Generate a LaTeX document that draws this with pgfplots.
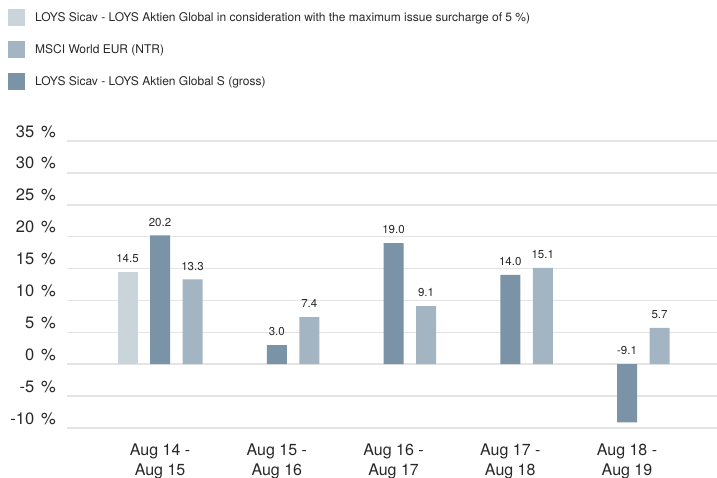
\documentclass[border=0pt]{standalone}
\usepackage{pgfplots}
\usepackage{pgfplotstable}
\pgfplotsset{compat=1.18}
\usepackage{fontspec}
\setmainfont{TeX Gyre Heros}

\definecolor{lightbar}{RGB}{201,212,219}
\definecolor{midbar}{RGB}{163,181,194}
\definecolor{darkbar}{RGB}{122,147,167}
\definecolor{gridgrey}{RGB}{228,228,228}
\definecolor{txt}{RGB}{40,40,40}

% one table per series, x = period index
\pgfplotstableread{
x y
0 14.5
}\surcharge
\pgfplotstableread{
x y
0 13.3
1 7.4
2 9.1
3 15.1
4 5.7
}\msci
\pgfplotstableread{
x y
0 20.2
1 3.0
2 19.0
3 14.0
4 -9.1
}\gross

\begin{document}
\begin{tikzpicture}
\begin{axis}[
    name=ax,
    scale only axis,
    width=650pt, height=287pt,
    xmin=-0.797, xmax=4.771,
    ymin=-10, ymax=35,
    axis line style={draw=none},
    major tick length=0pt,
    xtick={0,1,2,3,4},
    xticklabels={{Aug 14 -\\Aug 15},{Aug 15 -\\Aug 16},{Aug 16 -\\Aug 17},{Aug 17 -\\Aug 18},{Aug 18 -\\Aug 19}},
    xticklabel style={align=center, text=txt, font=\fontsize{16}{20}\selectfont, inner sep=0pt, anchor=north, yshift=-16pt},
    ytick={-10,-5,...,35},
    yticklabel={\pgfmathprintnumber{\tick}\hspace{0.42em}\%},
    yticklabel style={text=txt, font=\fontsize{16.5}{20}\selectfont, inner sep=0pt, anchor=base east, xshift=-11pt, yshift=4pt},
    /pgf/number format/assume math mode=true,
    ymajorgrids,
    grid style={gridgrey, line width=1.5pt},
    mybar/.style={ybar, bar width=0.1713, draw=none,
        legend image code/.code={\fill[##1] (0pt,-8.5pt) rectangle (17pt,8.5pt);}},
    valuelbl/.style={forget plot, draw=none, mark=none, point meta=explicit,
        nodes near coords={\pgfmathprintnumber[fixed, fixed zerofill, precision=1]{\pgfplotspointmeta}},
        every node near coord/.append style={font=\fontsize{11.5}{13}\selectfont, text=txt, anchor=south, inner sep=0pt, yshift=9pt}},
    legend style={at={(axis description cs:-0.0908,1.459)}, anchor=north west, draw=none, fill=none,
        inner sep=0pt, row sep=15pt, font=\fontsize{12}{13}\selectfont, text=txt,
        cells={anchor=west}, nodes={inner sep=0pt},
        /tikz/every odd column/.append style={column sep=10pt}},
]
\addplot[mybar, bar shift=-0.2784, fill=lightbar] table[x=x, y=y] {\surcharge};
\addplot[mybar, bar shift=0.2784, fill=midbar] table[x=x, y=y] {\msci};
\addplot[mybar, bar shift=0, fill=darkbar] table[x=x, y=y] {\gross};
% value labels: above the bar top, or above zero for a loss
\addplot[valuelbl] table[x expr={\thisrow{x}-0.2784}, y=y, meta=y] {\surcharge};
\addplot[valuelbl] table[x expr={\thisrow{x}+0.2784}, y=y, meta=y] {\msci};
\addplot[valuelbl] table[x=x, y expr={max(\thisrow{y},0)}, meta=y] {\gross};
\legend{LOYS Sicav - LOYS Aktien Global in consideration with the maximum issue surcharge of 5 \%),
    MSCI World EUR (NTR),
    LOYS Sicav - LOYS Aktien Global S (gross)}
\end{axis}
\pgfresetboundingbox
\useasboundingbox ([xshift=-67pt,yshift=-49pt]ax.south west) rectangle ([yshift=141pt]ax.north east);
\end{tikzpicture}
\end{document}
